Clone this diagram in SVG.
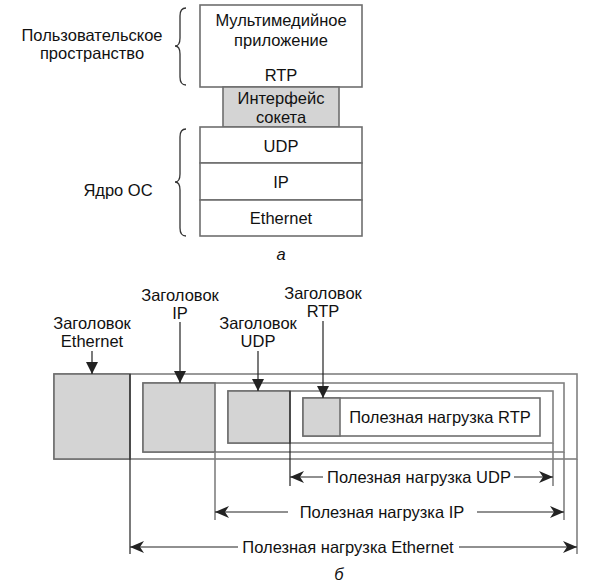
<svg xmlns="http://www.w3.org/2000/svg" width="590" height="588" viewBox="0 0 590 588">
<defs>
<style>
text{font-family:"Liberation Sans",Arial,sans-serif;font-size:16.5px;fill:#111}
.c{text-anchor:middle}
.box{fill:#fff;stroke:#6e6e6e;stroke-width:1.6}
.hdr{fill:#d4d4d4;stroke:#6e6e6e;stroke-width:1.6}
.frm{fill:none;stroke:#808080;stroke-width:1.6}
.ln{stroke:#222;stroke-width:1.2;fill:none}
.gl{stroke:#808080;stroke-width:1.6}
.br{fill:none;stroke:#333;stroke-width:1.3}
</style>
<marker id="ah" viewBox="0 0 12 12" refX="12" refY="6" markerWidth="12" markerHeight="12" markerUnits="userSpaceOnUse" orient="auto">
<path d="M0,0 L12,6 L0,12 Z" fill="#222"/>
</marker>
<marker id="ad" viewBox="0 0 14 12" refX="14" refY="6" markerWidth="14" markerHeight="12" markerUnits="userSpaceOnUse" orient="auto">
<path d="M0,0 L14,6 L0,12 L4,6 Z" fill="#222"/>
</marker>
</defs>

<g id="stack">
<g id="app"><rect class="box" x="200" y="5" width="162" height="82"/>
<text class="c" x="281" y="26">Мультимедийное</text>
<text class="c" x="281" y="46">приложение</text>
<text class="c" x="281" y="81">RTP</text></g>
<g id="socket"><rect class="hdr" x="223" y="87" width="116" height="40"/>
<text class="c" x="281" y="104">Интерфейс</text>
<text class="c" x="281" y="123">сокета</text></g>
<g id="udp"><rect class="box" x="200" y="127" width="162" height="36"/><text class="c" x="281" y="152">UDP</text></g>
<g id="ip"><rect class="box" x="200" y="163" width="162" height="37"/><text class="c" x="281" y="188">IP</text></g>
<g id="eth"><rect class="box" x="200" y="200" width="162" height="36"/><text class="c" x="281" y="224">Ethernet</text></g>
</g>

<g id="user-brace">
<path class="br" d="M186,8 Q180,8 180,16 L180,38 Q180,46 175,46 Q180,46 180,54 L180,77 Q180,85 186,85"/>
<text class="c" x="92" y="41">Пользовательское</text>
<text class="c" x="92" y="59">пространство</text>
</g>
<g id="kernel-brace">
<path class="br" d="M186,129 Q180,129 180,137 L180,174 Q180,182 175,182 Q180,182 180,190 L180,228 Q180,236 186,236"/>
<text class="c" x="118" y="196">Ядро ОС</text>
</g>
<text class="c" x="281" y="260" style="font-style:italic">а</text>

<g id="frames">
<rect class="frm" x="54" y="374" width="523" height="85"/>
<rect class="hdr" x="54" y="374" width="76" height="85"/>
<rect class="frm" x="143" y="383" width="421" height="69"/>
<rect class="hdr" x="143" y="383" width="72" height="69"/>
<rect class="frm" x="228" y="391" width="325" height="52"/>
<rect class="hdr" x="228" y="391" width="62" height="52"/>
<rect class="box" x="303" y="398" width="237" height="38"/>
<rect class="hdr" x="303" y="398" width="37" height="38"/>
<text class="c" x="440" y="423">Полезная нагрузка RTP</text>
</g>

<g id="connectors">
<line class="ln" x1="92" y1="351" x2="92" y2="374" marker-end="url(#ah)"/>
<line class="ln" x1="180" y1="322" x2="180" y2="383" marker-end="url(#ah)"/>
<line class="ln" x1="258" y1="351" x2="258" y2="391" marker-end="url(#ah)"/>
<line class="ln" x1="323" y1="321" x2="323" y2="398" marker-end="url(#ah)"/>

<line class="ln" x1="130" y1="374" x2="130" y2="554"/>
<line class="gl" x1="577" y1="459" x2="577" y2="554"/>
<line class="gl" x1="215" y1="452" x2="215" y2="520"/>
<line class="gl" x1="564" y1="452" x2="564" y2="520"/>
<line class="ln" x1="290" y1="391" x2="290" y2="486"/>
<line class="gl" x1="553" y1="443" x2="553" y2="486"/>

<line class="ln" x1="323" y1="477" x2="290" y2="477" marker-end="url(#ad)"/>
<line class="ln" x1="514" y1="477" x2="553" y2="477" marker-end="url(#ad)"/>
<line class="ln" x1="288" y1="512" x2="215" y2="512" marker-end="url(#ad)"/>
<line class="ln" x1="477" y1="512" x2="564" y2="512" marker-end="url(#ad)"/>
<line class="ln" x1="238" y1="547" x2="130" y2="547" marker-end="url(#ad)"/>
<line class="ln" x1="459" y1="547" x2="577" y2="547" marker-end="url(#ad)"/>
</g>

<g id="labels">
<text class="c" x="92" y="329">Заголовок</text>
<text class="c" x="92" y="347">Ethernet</text>
<text class="c" x="180" y="301">Заголовок</text>
<text class="c" x="180" y="319">IP</text>
<text class="c" x="258" y="329">Заголовок</text>
<text class="c" x="258" y="347">UDP</text>
<text class="c" x="323" y="299">Заголовок</text>
<text class="c" x="323" y="317">RTP</text>
<text class="c" x="419" y="483">Полезная нагрузка UDP</text>
<text class="c" x="382" y="518">Полезная нагрузка IP</text>
<text class="c" x="348" y="553">Полезная нагрузка Ethernet</text>
<text class="c" x="339" y="580" style="font-style:italic">б</text>
</g>
</svg>
